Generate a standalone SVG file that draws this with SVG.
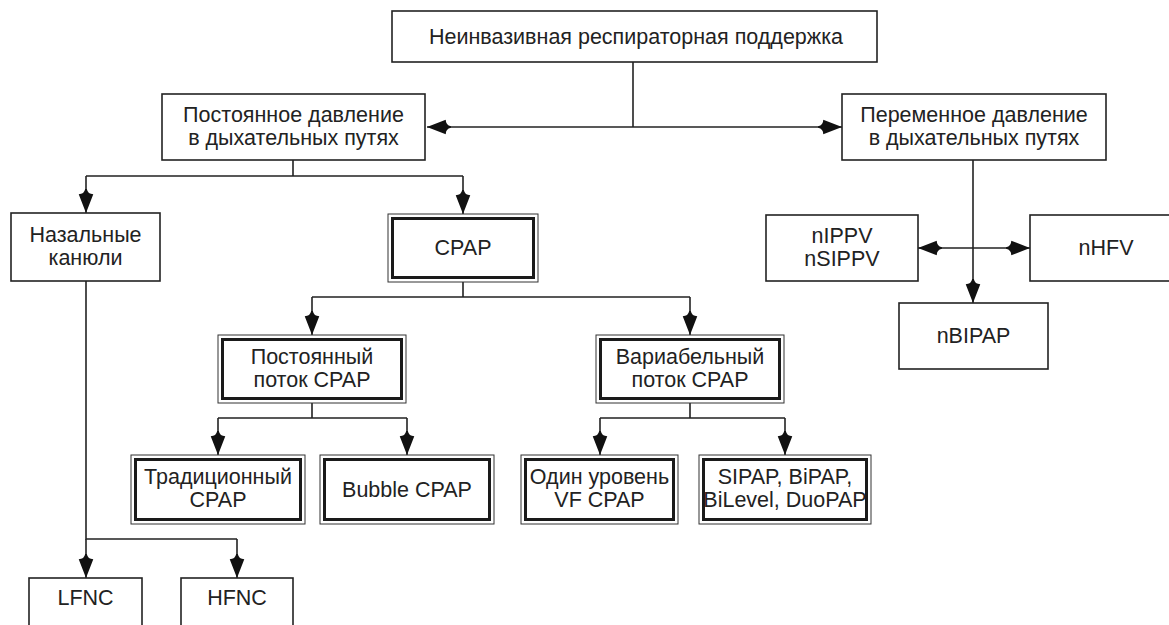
<svg xmlns="http://www.w3.org/2000/svg" width="1169" height="625" viewBox="0 0 1169 625">
<style>
  .box{fill:#fff;stroke:#222;stroke-width:1.6}
  .outer{fill:#fff;stroke:#333;stroke-width:1}
  .inner{fill:none;stroke:#1a1a1a;stroke-width:3}
  .t{font-family:"Liberation Sans",Arial,sans-serif;font-size:21.5px;fill:#222;text-anchor:middle}
  .c{fill:none;stroke:#222;stroke-width:1.6}
</style>
<defs>
  <marker id="ah" markerUnits="userSpaceOnUse" markerWidth="26" markerHeight="20" viewBox="-24 -9 25 18" refX="0" refY="0" orient="auto">
    <path d="M0,0 L-18,-7 Q-18,-1.8 -23,-0.8 L-23,0.8 Q-18,1.8 -18,7 Z" fill="#111"/>
  </marker>
</defs>
<rect width="1169" height="625" fill="#fff"/>
<g id="connectors">
  <path class="c" d="M633,62 V127"/>
  <path class="c" d="M633,127 H427" marker-end="url(#ah)"/>
  <path class="c" d="M633,127 H842" marker-end="url(#ah)"/>
  <path class="c" d="M293,160 V176 M86,176 H463"/>
  <path class="c" d="M86,176 V213" marker-end="url(#ah)"/>
  <path class="c" d="M463,176 V214" marker-end="url(#ah)"/>
  <path class="c" d="M973,160 V303" marker-end="url(#ah)"/>
  <path class="c" d="M973,248 H918" marker-end="url(#ah)"/>
  <path class="c" d="M973,248 H1030" marker-end="url(#ah)"/>
  <path class="c" d="M86,281 V539 H237"/>
  <path class="c" d="M86,539 V578" marker-end="url(#ah)"/>
  <path class="c" d="M237,539 V578" marker-end="url(#ah)"/>
  <path class="c" d="M463,282 V297 M312,297 H690"/>
  <path class="c" d="M312,297 V335" marker-end="url(#ah)"/>
  <path class="c" d="M690,297 V335" marker-end="url(#ah)"/>
  <path class="c" d="M312,403 V418 M218,418 H407"/>
  <path class="c" d="M218,418 V455" marker-end="url(#ah)"/>
  <path class="c" d="M407,418 V455" marker-end="url(#ah)"/>
  <path class="c" d="M690,403 V418 M600,418 H785"/>
  <path class="c" d="M600,418 V455" marker-end="url(#ah)"/>
  <path class="c" d="M785,418 V455" marker-end="url(#ah)"/>
</g>
<g id="n-root">
  <rect class="box" x="392" y="11" width="485" height="51"/>
  <text class="t" x="636" y="44">Неинвазивная респираторная поддержка</text>
</g>
<g id="n-const">
  <rect class="box" x="162" y="94" width="263" height="66"/>
  <text class="t" x="293.5" y="122">Постоянное давление</text>
  <text class="t" x="293.5" y="145">в дыхательных путях</text>
</g>
<g id="n-var">
  <rect class="box" x="842" y="94" width="264" height="66"/>
  <text class="t" x="974" y="122">Переменное давление</text>
  <text class="t" x="974" y="145">в дыхательных путях</text>
</g>
<g id="n-nasal">
  <rect class="box" x="11" y="213" width="149" height="68"/>
  <text class="t" x="85.5" y="242">Назальные</text>
  <text class="t" x="85.5" y="265">канюли</text>
</g>
<g id="n-cpap">
  <rect class="outer" x="388" y="214" width="150" height="68"/>
  <rect class="inner" x="392.5" y="218.5" width="141" height="59"/>
  <text class="t" x="463" y="255">CPAP</text>
</g>
<g id="n-nippv">
  <rect class="box" x="766" y="215" width="152" height="66"/>
  <text class="t" x="842" y="243">nIPPV</text>
  <text class="t" x="842" y="266">nSIPPV</text>
</g>
<g id="n-nhfv">
  <rect class="box" x="1030" y="215" width="152" height="66"/>
  <text class="t" x="1106" y="255">nHFV</text>
</g>
<g id="n-nbipap">
  <rect class="box" x="899" y="303" width="149" height="66"/>
  <text class="t" x="973.5" y="343">nBIPAP</text>
</g>
<g id="n-cfcpap">
  <rect class="outer" x="218" y="335" width="188" height="68"/>
  <rect class="inner" x="222.5" y="339.5" width="179" height="59"/>
  <text class="t" x="312" y="364">Постоянный</text>
  <text class="t" x="312" y="387">поток CPAP</text>
</g>
<g id="n-vfcpap">
  <rect class="outer" x="596" y="335" width="188" height="68"/>
  <rect class="inner" x="600.5" y="339.5" width="179" height="59"/>
  <text class="t" x="690" y="364">Вариабельный</text>
  <text class="t" x="690" y="387">поток CPAP</text>
</g>
<g id="n-trad">
  <rect class="outer" x="131" y="455" width="174" height="69"/>
  <rect class="inner" x="135.5" y="459.5" width="165" height="60"/>
  <text class="t" x="218" y="484">Традиционный</text>
  <text class="t" x="218" y="507">CPAP</text>
</g>
<g id="n-bubble">
  <rect class="outer" x="320" y="455" width="174" height="69"/>
  <rect class="inner" x="324.5" y="459.5" width="165" height="60"/>
  <text class="t" x="407" y="497">Bubble CPAP</text>
</g>
<g id="n-one">
  <rect class="outer" x="521" y="455" width="157" height="69"/>
  <rect class="inner" x="525.5" y="459.5" width="148" height="60"/>
  <text class="t" x="599.5" y="484">Один уровень</text>
  <text class="t" x="599.5" y="507">VF CPAP</text>
</g>
<g id="n-sipap">
  <rect class="outer" x="699" y="455" width="172" height="69"/>
  <rect class="inner" x="703.5" y="459.5" width="163" height="60"/>
  <text class="t" x="785" y="484">SIPAP, BiPAP,</text>
  <text class="t" x="785" y="507">BiLevel, DuoPAP</text>
</g>
<g id="n-lfnc">
  <rect class="box" x="29" y="578" width="113" height="60"/>
  <text class="t" x="85.5" y="605">LFNC</text>
</g>
<g id="n-hfnc">
  <rect class="box" x="181" y="578" width="112" height="60"/>
  <text class="t" x="237" y="605">HFNC</text>
</g>
</svg>
